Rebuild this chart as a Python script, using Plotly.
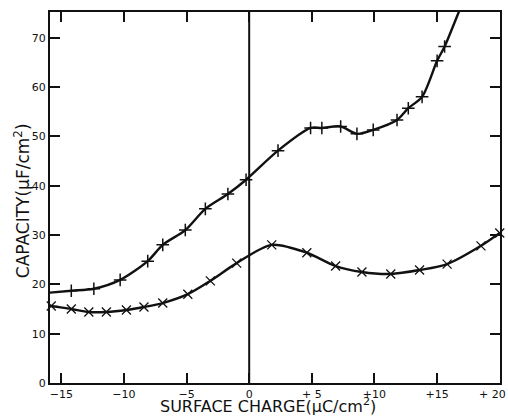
import plotly.graph_objects as go

# Upper curve (+ markers)
upper_x = [-14.2, -12.4, -10.3, -8.1, -6.9, -5.1, -3.5, -1.7, -0.25, 2.3, 4.9, 5.8, 7.3, 8.6, 9.9, 11.8, 12.7, 13.8, 15.0, 15.6]
upper_y = [18.7, 19.1, 20.9, 24.7, 28.0, 31.0, 35.3, 38.3, 41.2, 47.1, 51.7, 51.7, 52.0, 50.5, 51.3, 53.3, 55.7, 58.0, 65.3, 68.2]
# Curve end points drawn beyond the markers
upper_curve_x = [-16.0] + upper_x + [16.7, 17.2]
upper_curve_y = [18.3] + upper_y + [75.0, 78.0]

# Lower curve (x markers)
lower_x = [-15.8, -14.2, -12.8, -11.4, -9.8, -8.4, -6.9, -4.9, -3.1, -1.0, 1.8, 4.6, 6.9, 9.0, 11.3, 13.6, 15.8, 18.5, 20.0]
lower_y = [15.6, 15.0, 14.4, 14.4, 14.8, 15.4, 16.2, 18.0, 20.7, 24.3, 28.0, 26.4, 23.7, 22.5, 22.1, 22.9, 24.1, 27.8, 30.4]
lower_curve_x = [-16.0] + lower_x
lower_curve_y = [15.7] + lower_y

x_ticks = [-15, -10, -5, 0, 5, 10, 15, 20]
x_tick_text = ["\u221215", "\u221210", "\u22125", "0", "+ 5", "+10", "+15", ""]
last_x_label = "+ 20"
y_ticks = [0, 10, 20, 30, 40, 50, 60, 70]
x_title = "SURFACE CHARGE(\u03bcC/cm<sup>2</sup>)"
y_title = "CAPACITY(\u03bcF/cm<sup>2</sup>)"

INK = "#111111"
FONT = "DejaVu Sans"

fig = go.Figure()
fig.add_trace(go.Scatter(x=upper_curve_x, y=upper_curve_y, mode="lines",
                         line=dict(color=INK, width=2.4, shape="spline", smoothing=0.8),
                         hoverinfo="skip", showlegend=False))
fig.add_trace(go.Scatter(x=upper_x, y=upper_y, mode="markers",
                         marker=dict(symbol="cross-thin", size=9, line=dict(color=INK, width=1.5)),
                         showlegend=False))
fig.add_trace(go.Scatter(x=lower_curve_x, y=lower_curve_y, mode="lines",
                         line=dict(color=INK, width=2.4, shape="spline", smoothing=0.8),
                         hoverinfo="skip", showlegend=False))
fig.add_trace(go.Scatter(x=lower_x, y=lower_y, mode="markers", cliponaxis=False,
                         marker=dict(symbol="x-thin", size=9, line=dict(color=INK, width=1.3)),
                         showlegend=False))

fig.add_shape(type="line", x0=0, x1=0, y0=0, y1=1, xref="x", yref="paper",
              line=dict(color=INK, width=2))

# Last x tick label, pulled inside the page edge
fig.add_annotation(x=x_ticks[-1], y=0, xref="x", yref="paper", text=last_x_label,
                   showarrow=False, xanchor="right", yanchor="top", xshift=8, yshift=-3,
                   font=dict(size=11, color=INK, family=FONT))
# Axis titles
fig.add_annotation(x=0.484, y=0, xref="paper", yref="paper", text=x_title,
                   showarrow=False, xanchor="center", yanchor="middle", yshift=-22,
                   font=dict(size=16, color=INK, family=FONT))
fig.add_annotation(x=0, y=0.49, xref="paper", yref="paper", text=y_title, textangle=-90,
                   showarrow=False, xanchor="center", yanchor="middle", xshift=-28,
                   font=dict(size=17, color=INK, family=FONT))

fig.update_layout(
    width=508, height=417,
    margin=dict(l=50, r=8, t=12, b=34, autoexpand=False),
    paper_bgcolor="white", plot_bgcolor="white",
    font=dict(family=FONT, color=INK, size=11),
    xaxis=dict(range=[-15.9, 20.02], tickvals=x_ticks, ticktext=x_tick_text,
               ticks="inside", ticklen=10, tickwidth=2, tickcolor=INK,
               showline=True, linewidth=2, linecolor=INK, mirror="ticks",
               showgrid=False, zeroline=False, automargin=False,
               tickfont=dict(size=11)),
    yaxis=dict(range=[0, 75.2], tickvals=y_ticks,
               ticks="inside", ticklen=10, tickwidth=2, tickcolor=INK,
               showline=True, linewidth=2, linecolor=INK, mirror="ticks",
               showgrid=False, zeroline=False, automargin=False,
               tickfont=dict(size=11)),
)

fig.write_html("out.html", config={"displayModeBar": False},
               post_script="document.body.style.margin='0';document.body.style.overflow='hidden';")
